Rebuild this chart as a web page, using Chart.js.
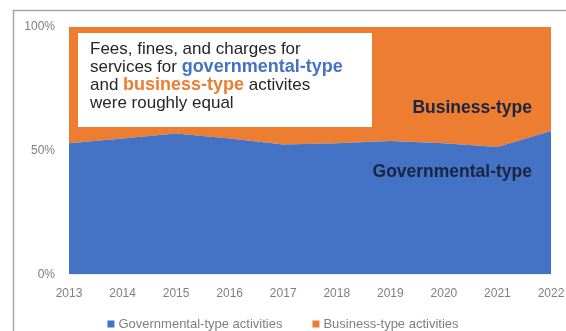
<!DOCTYPE html>
<html>
<head>
<meta charset="utf-8">
<script src="https://cdn.jsdelivr.net/npm/chart.js@4.4.1/dist/chart.umd.min.js"></script>
<style>
  html, body { margin: 0; padding: 0; background: #ffffff; }
  #wrap { position: relative; width: 566px; height: 331px; }
</style>
</head>
<body>
<div id="wrap"><canvas id="c" width="566" height="331"></canvas></div>
<script>
// Fiscal years on the horizontal axis
const years = ['2013', '2014', '2015', '2016', '2017', '2018', '2019', '2020', '2021', '2022'];
// Share of fees, fines and charges for services (percent of total)
const governmentalShare = [53, 55, 57, 55, 52.5, 53, 54, 53, 51.5, 58];
const businessShare = [47, 45, 43, 45, 47.5, 47, 46, 47, 48.5, 42];
// Value-axis ticks
const yTicks = [0, 50, 100];

const BLUE = '#4472C4';
const ORANGE = '#ED7D31';
const FONT = "'Liberation Sans', Arial, sans-serif";

// Frame drawn around the whole chart object
const framePlugin = {
  id: 'frame',
  beforeDraw(chart) {
    const ctx = chart.ctx;
    ctx.save();
    ctx.fillStyle = '#ffffff';
    ctx.fillRect(0, 0, chart.width, chart.height);
    ctx.strokeStyle = '#a6a6a6';
    ctx.lineWidth = 1.5;
    ctx.strokeRect(13.5, 10.5, chart.width + 20, chart.height + 20);
    ctx.restore();
  }
};

// Callout box and in-area series labels
const calloutPlugin = {
  id: 'callout',
  afterDatasetsDraw(chart) {
    const ctx = chart.ctx;
    const a = chart.chartArea;
    ctx.save();

    const bx = a.left + 9, by = a.top + 6, bw = 294, bh = 94;
    ctx.fillStyle = '#ffffff';
    ctx.fillRect(bx, by, bw, bh);

    const lines = [
      [['Fees, fines, and charges for', '#262626', false]],
      [['services for ', '#262626', false], ['governmental-type', BLUE, true]],
      [['and ', '#262626', false], ['business-type', ORANGE, true], [' activites', '#262626', false]],
      [['were roughly equal', '#262626', false]]
    ];
    ctx.textBaseline = 'middle';
    ctx.textAlign = 'left';
    lines.forEach((segs, i) => {
      let x = bx + 12;
      const y = by + 16 + i * 18;
      segs.forEach(([t, col, bold]) => {
        ctx.font = bold ? 'bold 18px ' + FONT : '17px ' + FONT;
        ctx.fillStyle = col;
        ctx.fillText(t, x, y);
        x += ctx.measureText(t).width;
      });
    });

    ctx.font = 'bold 17.5px ' + FONT;
    ctx.fillStyle = '#1b2440';
    ctx.textAlign = 'right';
    ctx.fillText('Business-type', a.right - 19, a.top + 81);
    ctx.fillText('Governmental-type', a.right - 19, a.top + 145);
    ctx.restore();
  }
};

// Series key along the bottom edge, built from the dataset labels and colours
const keyPlugin = {
  id: 'key',
  afterDraw(chart) {
    const ctx = chart.ctx;
    const sets = chart.data.datasets;
    const box = 7, gapText = 4, gapItem = 30;
    ctx.save();
    ctx.font = '13px ' + FONT;
    ctx.textBaseline = 'middle';
    ctx.textAlign = 'left';
    const widths = sets.map(d => box + gapText + ctx.measureText(d.label).width);
    const total = widths.reduce((s, w) => s + w, 0) + gapItem * (sets.length - 1);
    let x = 283 - total / 2;
    const y = 324;
    sets.forEach((d, i) => {
      ctx.fillStyle = d.backgroundColor;
      ctx.fillRect(x, y - box / 2, box, box);
      ctx.fillStyle = '#7f7f7f';
      ctx.fillText(d.label, x + box + gapText, y);
      x += widths[i] + gapItem;
    });
    ctx.restore();
  }
};

new Chart(document.getElementById('c'), {
  type: 'line',
  data: {
    labels: years,
    datasets: [
      {
        label: 'Governmental-type activities',
        data: governmentalShare,
        backgroundColor: BLUE,
        borderColor: BLUE,
        borderWidth: 0,
        pointRadius: 0,
        tension: 0,
        fill: 'origin'
      },
      {
        label: 'Business-type activities',
        data: businessShare,
        backgroundColor: ORANGE,
        borderColor: ORANGE,
        borderWidth: 0,
        pointRadius: 0,
        tension: 0,
        fill: '-1'
      }
    ]
  },
  options: {
    responsive: false,
    animation: false,
    events: [],
    layout: { padding: { left: 14, right: 12, top: 27, bottom: 26 } },
    scales: {
      x: {
        offset: false,
        grid: { display: false },
        border: { display: false },
        afterFit(scale) { scale.paddingRight = 15; },
        ticks: {
          color: '#7f7f7f',
          font: { family: FONT, size: 12 },
          padding: 4,
          maxRotation: 0,
          autoSkip: false
        }
      },
      y: {
        stacked: true,
        min: 0,
        max: 100,
        grid: { display: false },
        border: { display: false },
        afterBuildTicks(scale) {
          scale.ticks = yTicks.map(v => ({ value: v }));
        },
        afterFit(scale) { scale.width = 55; },
        ticks: {
          color: '#7f7f7f',
          font: { family: FONT, size: 12 },
          padding: 6,
          callback: v => v + '%'
        }
      }
    },
    plugins: {
      tooltip: { enabled: false },
      legend: { display: false }
    }
  },
  plugins: [framePlugin, calloutPlugin, keyPlugin]
});
</script>
</body>
</html>
